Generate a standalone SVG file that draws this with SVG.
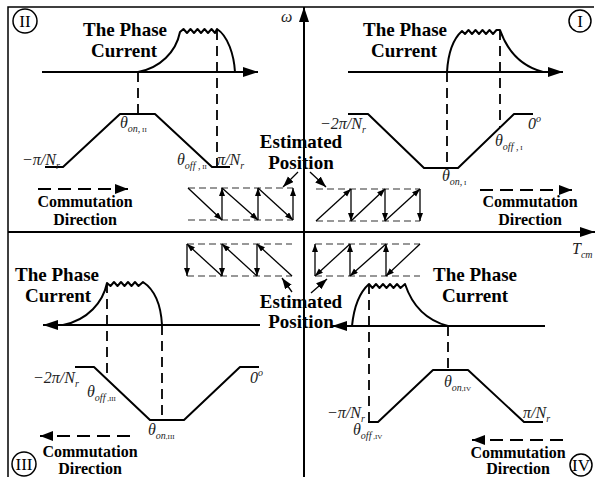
<svg xmlns="http://www.w3.org/2000/svg" width="595" height="477" viewBox="0 0 595 477">
<style>
.bg{fill:#fff}
.frame{fill:none;stroke:#000;stroke-width:1.5}
.axis{fill:none;stroke:#000;stroke-width:2}
.wave{fill:none;stroke:#000;stroke-width:2;stroke-linejoin:round}
.vd{fill:none;stroke:#000;stroke-width:1.8;stroke-dasharray:10 6}
.cd{fill:none;stroke:#000;stroke-width:2;stroke-dasharray:13 7}
.sd{fill:none;stroke:#333;stroke-width:1.2;stroke-dasharray:7 4}
.sa{fill:none;stroke:#000;stroke-width:1.3}
.lbl{font-family:"Liberation Serif","Times New Roman",serif;font-weight:bold;font-size:19px;text-anchor:middle;fill:#000}
.cl{font-family:"Liberation Serif","Times New Roman",serif;font-weight:bold;font-size:16px;text-anchor:middle;fill:#000}
.m{font-family:"Liberation Serif","Times New Roman",serif;font-style:italic;font-size:16px;fill:#222}
.sub{font-size:10px}
.rn{font-size:7px;font-style:normal}
.circ{fill:none;stroke:#000;stroke-width:1.5}
.ct{font-family:"Liberation Serif","Times New Roman",serif;font-size:17px;text-anchor:middle;fill:#000}
</style>
<defs>
<marker id="big" markerUnits="userSpaceOnUse" markerWidth="16" markerHeight="12" refX="15" refY="5" orient="auto"><path d="M0,0 L15,5 L0,10 Z" fill="#000"/></marker>
<marker id="med" markerUnits="userSpaceOnUse" markerWidth="14" markerHeight="12" refX="13" refY="5" orient="auto"><path d="M0,0 L13,5 L0,10 Z" fill="#000"/></marker>
<marker id="sm" markerUnits="userSpaceOnUse" markerWidth="9" markerHeight="7" refX="8" refY="3" orient="auto"><path d="M0,0 L8,3 L0,6 Z" fill="#000"/></marker>
<marker id="em" markerUnits="userSpaceOnUse" markerWidth="12" markerHeight="9" refX="11" refY="4" orient="auto"><path d="M0,0 L11,4 L0,8 Z" fill="#000"/></marker>
</defs>
<rect class="bg" x="0" y="0" width="595" height="477"/>
<path class="frame" d="M8,477 V7 H594"/>

<g id="connectors">
<line class="axis" x1="304" y1="477" x2="304" y2="7" marker-end="url(#big)"/>
<line class="axis" x1="8" y1="232" x2="595" y2="232" marker-end="url(#big)"/>
<text class="m" x="281" y="22" font-size="14">ω</text>
<text class="m" x="572" y="254" font-size="14">T<tspan class="sub" dy="4">cm</tspan></text>
</g>

<g id="quadrant-II">
<circle class="circ" cx="25" cy="21" r="12"/>
<text class="ct" x="25" y="27">II</text>
<text class="lbl" x="125" y="36">The Phase</text>
<text class="lbl" x="124" y="57">Current</text>
<line class="axis" x1="42" y1="72" x2="258" y2="72" marker-end="url(#big)"/>
<path class="wave" d="M138,72 C160,68 176,52 180,32 L183.5,29 L187,33 L190.5,29 L194,33 L197.5,29 L201,33 L204.5,29 L208,33 L211.5,29 L215,33 L217,29 C228,36 234,55 235,72"/>
<line class="vd" x1="138" y1="72" x2="138" y2="114"/>
<line class="vd" x1="217" y1="30" x2="217" y2="167"/>
<polyline class="wave" points="45,167 63,167 120,114 155,114 212,167 230,167"/>
<text class="m" x="22" y="165">−π/N<tspan class="sub" dy="4">r</tspan></text>
<text class="m" x="217" y="165">π/N<tspan class="sub" dy="4">r</tspan></text>
<text class="m" x="120" y="128">θ<tspan class="sub" dy="4">on</tspan><tspan class="sub">,</tspan><tspan class="rn"> II</tspan></text>
<text class="m" x="177" y="165">θ<tspan class="sub" dy="4">off</tspan><tspan class="sub"> ,</tspan><tspan class="rn"> II</tspan></text>
<line class="cd" x1="38" y1="189" x2="128" y2="189" marker-end="url(#med)"/>
<text class="cl" x="85" y="207">Commutation</text>
<text class="cl" x="85" y="225">Direction</text>
<line class="sd" x1="188" y1="188" x2="293" y2="188"/>
<line class="sd" x1="188" y1="220" x2="293" y2="220"/>
<line class="sa" x1="188" y1="188" x2="222" y2="220" marker-end="url(#sm)"/>
<line class="sa" x1="222" y1="188" x2="258" y2="220" marker-end="url(#sm)"/>
<line class="sa" x1="258" y1="188" x2="293" y2="220" marker-end="url(#sm)"/>
<line class="sa" x1="222" y1="220" x2="222" y2="188" marker-end="url(#sm)"/>
<line class="sa" x1="258" y1="220" x2="258" y2="188" marker-end="url(#sm)"/>
<line class="sa" x1="293" y1="220" x2="293" y2="188" marker-end="url(#sm)"/>
</g>

<g id="quadrant-I">
<circle class="circ" cx="580" cy="21" r="11"/>
<text class="ct" x="580" y="27">I</text>
<text class="lbl" x="405" y="36">The Phase</text>
<text class="lbl" x="404" y="57">Current</text>
<line class="axis" x1="348" y1="72" x2="563" y2="72" marker-end="url(#big)"/>
<path class="wave" d="M447,72 C448,55 452,40 462,31 L465,34 L468.5,30 L472,34 L475.5,30 L479,34 L482.5,30 L486,34 L489.5,30 L493,34 L496.5,30 L500,30 C507,50 520,66 543,72"/>
<line class="vd" x1="447" y1="72" x2="447" y2="168"/>
<line class="vd" x1="500" y1="30" x2="500" y2="127"/>
<polyline class="wave" points="348,114 368,114 424,168 458,168 514,114 533,114"/>
<text class="m" x="320" y="129">−2π/N<tspan class="sub" dy="4">r</tspan></text>
<text class="m" x="528" y="129">0<tspan class="sub" dy="-7">o</tspan></text>
<text class="m" x="495" y="146">θ<tspan class="sub" dy="4">off</tspan><tspan class="sub"> ,</tspan><tspan class="rn"> I</tspan></text>
<text class="m" x="442" y="181">θ<tspan class="sub" dy="4">on</tspan><tspan class="sub">,</tspan><tspan class="rn"> I</tspan></text>
<line class="cd" x1="480" y1="190" x2="572" y2="190" marker-end="url(#med)"/>
<text class="cl" x="530" y="207">Commutation</text>
<text class="cl" x="530" y="225">Direction</text>
<line class="sd" x1="316" y1="189" x2="420" y2="189"/>
<line class="sd" x1="316" y1="221" x2="420" y2="221"/>
<line class="sa" x1="316" y1="221" x2="351" y2="189" marker-end="url(#sm)"/>
<line class="sa" x1="351" y1="221" x2="385" y2="189" marker-end="url(#sm)"/>
<line class="sa" x1="385" y1="221" x2="420" y2="189" marker-end="url(#sm)"/>
<line class="sa" x1="351" y1="189" x2="351" y2="221" marker-end="url(#sm)"/>
<line class="sa" x1="385" y1="189" x2="385" y2="221" marker-end="url(#sm)"/>
<line class="sa" x1="420" y1="189" x2="420" y2="221" marker-end="url(#sm)"/>
</g>

<g id="estimated-position-top">
<text class="lbl" x="301" y="148">Estimated</text>
<text class="lbl" x="301" y="169">Position</text>
<line class="sa" x1="298" y1="172" x2="283" y2="187" marker-end="url(#em)"/>
<line class="sa" x1="310" y1="172" x2="326" y2="187" marker-end="url(#em)"/>
</g>

<g id="quadrant-III">
<circle class="circ" cx="24" cy="464" r="12"/>
<text class="ct" x="24" y="470" font-size="15">III</text>
<text class="lbl" x="57" y="281">The Phase</text>
<text class="lbl" x="58" y="302">Current</text>
<line class="axis" x1="260" y1="325" x2="43" y2="325" marker-end="url(#big)"/>
<path class="wave" d="M63,325 C88,320 103,302 107,283 L110.5,286 L114,282 L117.5,286 L121,282 L124.5,286 L128,282 L131.5,286 L135,282 L138.5,286 L143,282 C155,290 161,306 162,325"/>
<line class="vd" x1="107" y1="283" x2="107" y2="379"/>
<line class="vd" x1="162" y1="325" x2="162" y2="420"/>
<polyline class="wave" points="75,367 94,367 150,420 184,420 240,367 259,367"/>
<text class="m" x="33" y="383">−2π/N<tspan class="sub" dy="4">r</tspan></text>
<text class="m" x="87" y="397">θ<tspan class="sub" dy="4">off</tspan><tspan class="rn"> ,III</tspan></text>
<text class="m" x="250" y="383">0<tspan class="sub" dy="-7">o</tspan></text>
<text class="m" x="148" y="435">θ<tspan class="sub" dy="4">on</tspan><tspan class="rn">,III</tspan></text>
<line class="cd" x1="130" y1="436" x2="40" y2="436" marker-end="url(#med)"/>
<text class="cl" x="90" y="457">Commutation</text>
<text class="cl" x="90" y="474">Direction</text>
<line class="sd" x1="187" y1="244" x2="292" y2="244"/>
<line class="sd" x1="187" y1="276" x2="292" y2="276"/>
<line class="sa" x1="187" y1="244" x2="187" y2="276" marker-end="url(#sm)"/>
<line class="sa" x1="222" y1="244" x2="222" y2="276" marker-end="url(#sm)"/>
<line class="sa" x1="257" y1="244" x2="257" y2="276" marker-end="url(#sm)"/>
<line class="sa" x1="222" y1="276" x2="187" y2="244" marker-end="url(#sm)"/>
<line class="sa" x1="257" y1="276" x2="222" y2="244" marker-end="url(#sm)"/>
<line class="sa" x1="292" y1="276" x2="257" y2="244" marker-end="url(#sm)"/>
</g>

<g id="estimated-position-bottom">
<text class="lbl" x="301" y="308">Estimated</text>
<text class="lbl" x="301" y="328">Position</text>
<line class="sa" x1="292" y1="292" x2="282" y2="278" marker-end="url(#em)"/>
<line class="sa" x1="311" y1="293" x2="327" y2="279" marker-end="url(#em)"/>
</g>

<g id="quadrant-IV">
<circle class="circ" cx="581" cy="465" r="11"/>
<text class="ct" x="581" y="471" font-size="15">IV</text>
<text class="lbl" x="475" y="281">The Phase</text>
<text class="lbl" x="475" y="302">Current</text>
<line class="axis" x1="545" y1="326" x2="332" y2="326" marker-end="url(#big)"/>
<path class="wave" d="M352,326 C354,306 360,292 369,284 L372.5,288 L376,284 L379.5,288 L383,284 L386.5,288 L390,284 L393.5,288 L397,284 L400.5,288 L405,284 C412,305 425,320 448,326"/>
<line class="vd" x1="369" y1="284" x2="369" y2="422"/>
<line class="vd" x1="448" y1="326" x2="448" y2="370"/>
<polyline class="wave" points="368,422 378,422 433,370 468,370 524,422 543,422"/>
<text class="m" x="327" y="418">−π/N<tspan class="sub" dy="4">r</tspan></text>
<text class="m" x="523" y="418">π/N<tspan class="sub" dy="4">r</tspan></text>
<text class="m" x="444" y="387">θ<tspan class="sub" dy="4">on</tspan><tspan class="rn">,IV</tspan></text>
<text class="m" x="353" y="435">θ<tspan class="sub" dy="4">off</tspan><tspan class="rn"> ,IV</tspan></text>
<line class="cd" x1="563" y1="440" x2="472" y2="440" marker-end="url(#med)"/>
<text class="cl" x="518" y="458">Commutation</text>
<text class="cl" x="518" y="474">Direction</text>
<line class="sd" x1="315" y1="244" x2="420" y2="244"/>
<line class="sd" x1="315" y1="276" x2="420" y2="276"/>
<line class="sa" x1="315" y1="276" x2="315" y2="244" marker-end="url(#sm)"/>
<line class="sa" x1="350" y1="276" x2="350" y2="244" marker-end="url(#sm)"/>
<line class="sa" x1="386" y1="276" x2="386" y2="244" marker-end="url(#sm)"/>
<line class="sa" x1="350" y1="244" x2="315" y2="276" marker-end="url(#sm)"/>
<line class="sa" x1="386" y1="244" x2="350" y2="276" marker-end="url(#sm)"/>
<line class="sa" x1="420" y1="244" x2="386" y2="276" marker-end="url(#sm)"/>
</g>
</svg>
